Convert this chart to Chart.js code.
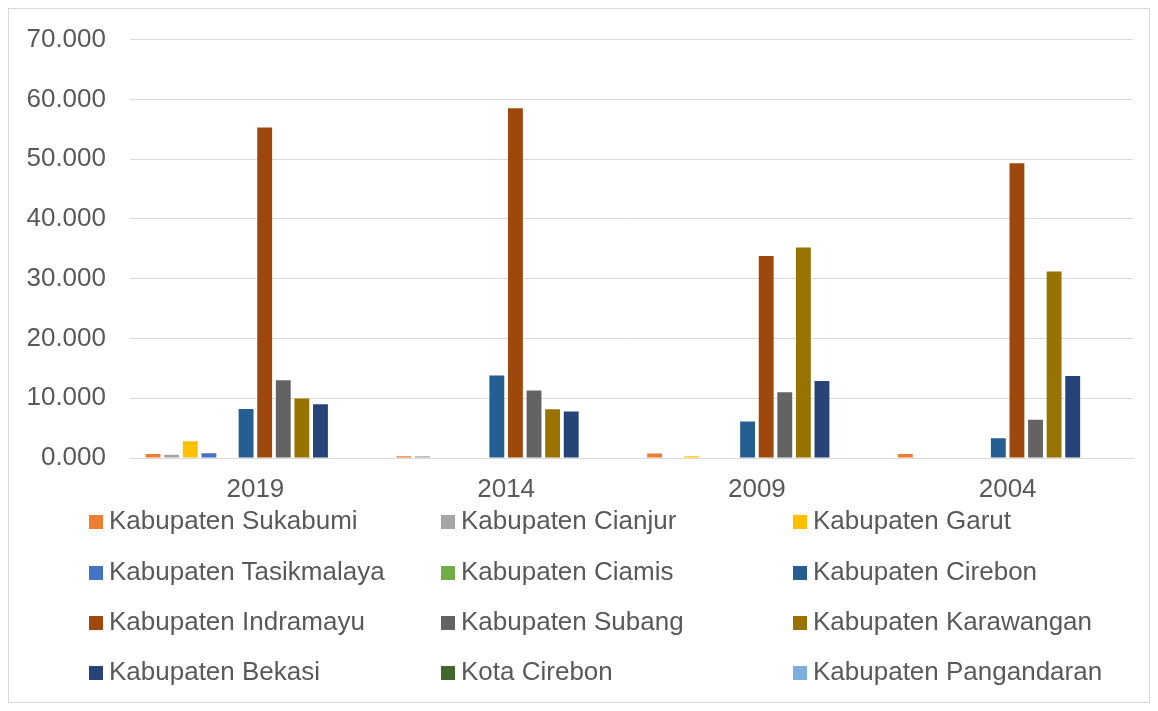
<!DOCTYPE html>
<html>
<head>
<meta charset="utf-8">
<script src="https://cdn.jsdelivr.net/npm/chart.js@4.4.1/dist/chart.umd.min.js"></script>
<style>
    html, body { margin: 0; padding: 0; background: #fff; }
    #wrap { position: relative; width: 1158px; height: 711px; overflow: hidden; }
    #frame { position: absolute; left: 8px; top: 8px; width: 1142px; height: 695px; border: 1px solid #d9d9d9; box-sizing: border-box; }
    #chart { position: absolute; left: 0; top: 0; }
    #legend { position: absolute; left: 0; top: 0; width: 1158px; height: 711px; font-family: "Liberation Sans", Arial, sans-serif; font-size: 26px; color: #595959; }
    .item { position: absolute; white-space: nowrap; line-height: 30px; }
    .swatch { display: inline-block; width: 14px; height: 14px; margin-right: 6px; vertical-align: 0px; }
</style>
</head>
<body>
<div id="wrap">
    <div id="frame"></div>
    <canvas id="chart" width="1158" height="711"></canvas>
    <div id="legend"></div>
</div>
<script>
// Election years (categories) and values per kabupaten, in thousands.
const years = ['2019', '2014', '2009', '2004'];

const sukabumi     = [0.65, 0.3, 0.75, 0.65];
const cianjur      = [0.55, 0.3, 0, 0];
const garut        = [2.8, 0, 0.3, 0];
const tasikmalaya  = [0.8, 0, 0, 0];
const ciamis       = [0, 0, 0, 0];
const cirebon      = [8.2, 13.8, 6.1, 3.3];
const indramayu    = [55.3, 58.5, 33.8, 49.3];
const subang       = [13.0, 11.3, 11.0, 6.4];
const karawangan   = [9.95, 8.15, 35.2, 31.2];
const bekasi       = [9.0, 7.8, 12.9, 13.7];
const kotaCirebon  = [0, 0, 0, 0];
const pangandaran  = [0, 0, 0, 0];

const yTicks = [0, 10, 20, 30, 40, 50, 60, 70];

const series = [
    { label: 'Kabupaten Sukabumi', data: sukabumi, color: '#ED7D31' },
    { label: 'Kabupaten Cianjur', data: cianjur, color: '#A5A5A5' },
    { label: 'Kabupaten Garut', data: garut, color: '#FFC000' },
    { label: 'Kabupaten Tasikmalaya', data: tasikmalaya, color: '#4472C4' },
    { label: 'Kabupaten Ciamis', data: ciamis, color: '#70AD47' },
    { label: 'Kabupaten Cirebon', data: cirebon, color: '#255E91' },
    { label: 'Kabupaten Indramayu', data: indramayu, color: '#9E480E' },
    { label: 'Kabupaten Subang', data: subang, color: '#636363' },
    { label: 'Kabupaten Karawangan', data: karawangan, color: '#997300' },
    { label: 'Kabupaten Bekasi', data: bekasi, color: '#264478' },
    { label: 'Kota Cirebon', data: kotaCirebon, color: '#43682B' },
    { label: 'Kabupaten Pangandaran', data: pangandaran, color: '#7CAFDD' }
];

const FONT = '"Liberation Sans", Arial, sans-serif';
const TEXT = '#595959';

const ctx = document.getElementById('chart');
const chart = new Chart(ctx, {
    type: 'bar',
    data: {
        labels: years,
        datasets: series.map(s => ({
            label: s.label,
            data: s.data,
            backgroundColor: s.color,
            borderWidth: 0,
            categoryPercentage: 0.89,
            barPercentage: 0.8
        }))
    },
    options: {
        responsive: false,
        animation: false,
        layout: { padding: { left: 10, top: 38, right: 25, bottom: 203 } },
        plugins: {
            legend: { display: false },
            tooltip: { enabled: false }
        },
        scales: {
            x: {
                grid: { display: false, drawTicks: false },
                border: { color: '#d9d9d9', width: 1 },
                ticks: { color: TEXT, font: { family: FONT, size: 26 }, padding: 16 },
                afterFit: scale => { scale.height = 50; }
            },
            y: {
                min: 0,
                max: 70,
                afterBuildTicks: scale => { scale.ticks = yTicks.map(v => ({ value: v })); },
                grid: { color: '#d9d9d9', lineWidth: 1, drawTicks: false },
                border: { display: false },
                ticks: {
                    color: TEXT,
                    font: { family: FONT, size: 26 },
                    padding: 24,
                    callback: v => v.toFixed(3)
                },
                afterFit: scale => { scale.width = 120; }
            }
        }
    }
});

// Legend laid out in three columns like the original.
const legend = document.getElementById('legend');
const colX = [89, 441, 793];
const rowY = [505, 556, 606, 656];
series.forEach((s, i) => {
    const el = document.createElement('div');
    el.className = 'item';
    el.style.left = colX[i % 3] + 'px';
    el.style.top = rowY[Math.floor(i / 3)] + 'px';
    el.innerHTML = '<span class="swatch" style="background:' + s.color + '"></span>' + s.label;
    legend.appendChild(el);
});
</script>
</body>
</html>
